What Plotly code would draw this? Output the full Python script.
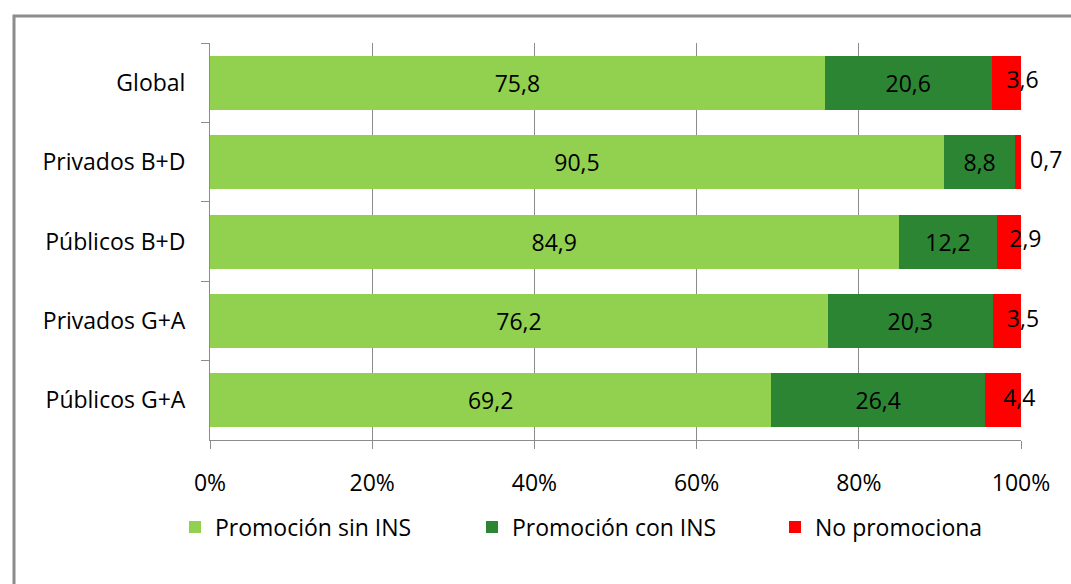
import plotly.graph_objects as go

# datos (porcentajes)
categorias = ["Global", "Privados B+D", "Públicos B+D", "Privados G+A", "Públicos G+A"]
promo_sin_ins = [75.8, 90.5, 84.9, 76.2, 69.2]
promo_con_ins = [20.6, 8.8, 12.2, 20.3, 26.4]
no_promociona = [3.6, 0.7, 2.9, 3.5, 4.4]

series = ["Promoción sin INS", "Promoción con INS", "No promociona"]
colores = ["#92D050", "#2C8533", "#FF0000"]

ticks_x = [0, 20, 40, 60, 80, 100]
ticks_x_txt = ["0%", "20%", "40%", "60%", "80%", "100%"]

W, H = 1071, 584
L, R, T, B = 210, 50, 43, 144
pw, ph = W - L - R, H - T - B


def px_x(p):
    return (p - L) / pw


def px_y(p):
    return (H - B - p) / ph


def fmt(v):
    return f"{v:.1f}".replace(".", ",")


font = "Open Sans"
fs = 23
gris = "#8C8C8C"

fig = go.Figure()

for i, (nombre, vals, color) in enumerate(zip(series[:2], [promo_sin_ins, promo_con_ins], colores[:2])):
    fig.add_trace(go.Bar(
        y=categorias, x=vals, name=nombre, orientation="h",
        marker=dict(color=color, line=dict(width=0)),
        text=[fmt(v) for v in vals],
        textposition="inside", insidetextanchor="middle",
        textfont=dict(color="black", size=fs, family=font),
        constraintext="none", hoverinfo="skip",
        legend="legend" if i == 0 else "legend2",
    ))

fig.add_trace(go.Bar(
    y=categorias, x=no_promociona, name=series[2], orientation="h",
    marker=dict(color=colores[2], line=dict(width=0)),
    hoverinfo="skip", legend="legend3",
))

# etiquetas del último tramo (desbordan la barra)
base = [a + b for a, b in zip(promo_sin_ins, promo_con_ins)]
fig.add_trace(go.Scatter(
    y=categorias, x=[b + v / 2 for b, v in zip(base, no_promociona)],
    mode="text",
    text=[("  " + fmt(v)) if v < 1 else fmt(v) for v in no_promociona],
    textposition="middle right",
    textfont=dict(color="black", size=fs, family=font),
    showlegend=False, hoverinfo="skip", cliponaxis=False,
))


def leyenda(xpx):
    return dict(
        orientation="h", x=px_x(xpx), xanchor="left",
        y=px_y(527), yanchor="middle",
        font=dict(size=fs), itemwidth=30, bgcolor="rgba(0,0,0,0)",
    )


fig.update_layout(
    width=W, height=H,
    barmode="stack", bargap=0.32,
    plot_bgcolor="white", paper_bgcolor="white",
    margin=dict(l=L, r=R, t=T, b=B),
    font=dict(family=font, size=fs, color="black"),
    separators=",.",
    showlegend=True,
    legend=leyenda(175),
    legend2=leyenda(472),
    legend3=leyenda(775),
    xaxis=dict(
        range=[0, 100], tickmode="array", tickvals=ticks_x, ticktext=ticks_x_txt,
        showgrid=True, gridcolor=gris, gridwidth=1,
        showline=True, linecolor=gris, linewidth=1,
        ticks="outside", ticklen=8, tickcolor=gris, ticklabelstandoff=14,
        zeroline=False, tickfont=dict(size=fs), fixedrange=True,
    ),
    yaxis=dict(
        autorange="reversed", categoryorder="array", categoryarray=categorias,
        showline=True, linecolor=gris, linewidth=1,
        ticks="outside", ticklen=8, tickcolor=gris, tickson="boundaries",
        ticklabelstandoff=19,
        showgrid=False, tickfont=dict(size=fs), fixedrange=True,
    ),
    shapes=[dict(
        type="rect", xref="paper", yref="paper",
        x0=px_x(14), x1=px_x(W + 20), y0=px_y(H + 20), y1=px_y(16),
        line=dict(color=gris, width=3), fillcolor="rgba(0,0,0,0)",
        layer="below",
    )],
)

fig.write_html("out.html", config={"displayModeBar": False},
               post_script="document.body.style.margin='0';")
